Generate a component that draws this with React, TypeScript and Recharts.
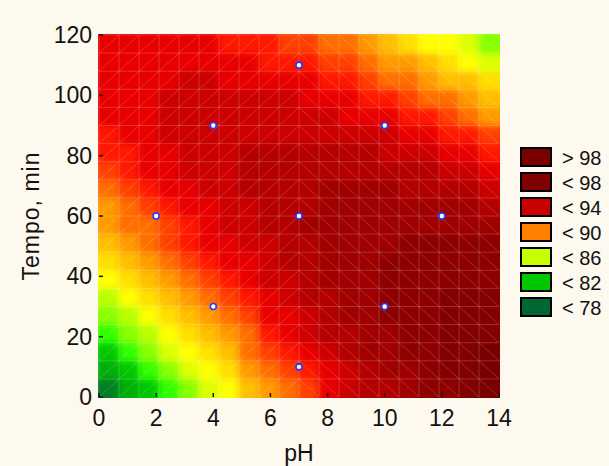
import React from 'react';
import { ScatterChart, Scatter, XAxis, YAxis, Legend } from 'recharts';

// cell centres of the fitted surface (pH columns, tempo rows)
const phCenters = [0.35, 1.05, 1.75, 2.45, 3.15, 3.85, 4.55, 5.25, 5.95, 6.65, 7.35, 8.05, 8.75, 9.45, 10.15, 10.85, 11.55, 12.25, 12.95, 13.65];
const tempoCenters = [3, 9, 15, 21, 27, 33, 39, 45, 51, 57, 63, 69, 75, 81, 87, 93, 99, 105, 111, 117];

// response, one row per tempo (bottom row first)
const surface = [
  [77.4, 79.1, 80.7, 82.3, 83.8, 85.3, 86.6, 88.0, 89.2, 90.4, 91.8, 93.1, 94.1, 95.0, 95.9, 96.6, 97.1, 97.8, 98.5, 99.1],
  [79.0, 80.7, 82.2, 83.7, 85.1, 86.5, 87.8, 89.0, 90.2, 91.5, 92.8, 93.8, 94.7, 95.6, 96.4, 96.9, 97.4, 98.1, 98.6, 99.1],
  [80.6, 82.2, 83.6, 85.0, 86.4, 87.6, 88.9, 90.0, 91.3, 92.5, 93.5, 94.4, 95.3, 96.1, 96.6, 97.2, 97.6, 98.2, 98.6, 99.1],
  [82.1, 83.6, 84.9, 86.3, 87.5, 88.7, 89.8, 90.9, 92.1, 93.3, 94.1, 95.0, 95.7, 96.4, 96.9, 97.2, 97.7, 98.2, 98.6, 98.9],
  [83.5, 84.9, 86.2, 87.4, 88.6, 89.7, 90.7, 91.9, 93.0, 93.9, 94.7, 95.4, 96.1, 96.5, 97.1, 97.3, 97.8, 98.1, 98.4, 98.7],
  [84.8, 86.1, 87.3, 88.4, 89.5, 90.5, 91.7, 92.8, 93.6, 94.4, 95.1, 95.8, 96.4, 96.7, 97.2, 97.4, 97.7, 98.0, 98.2, 98.3],
  [86.0, 87.2, 88.3, 89.4, 90.4, 91.5, 92.6, 93.4, 94.2, 94.8, 95.5, 96.0, 96.3, 96.8, 97.2, 97.3, 97.5, 97.7, 97.8, 97.9],
  [87.1, 88.2, 89.3, 90.2, 91.4, 92.4, 93.2, 93.9, 94.6, 95.2, 95.7, 96.2, 96.4, 96.8, 97.1, 97.1, 97.3, 97.4, 97.4, 97.4],
  [88.2, 89.2, 90.1, 91.2, 92.0, 93.0, 93.7, 94.3, 94.9, 95.4, 95.9, 96.3, 96.4, 96.7, 96.9, 97.0, 97.1, 97.1, 97.1, 97.0],
  [89.1, 90.0, 90.9, 91.9, 92.8, 93.5, 94.1, 94.7, 95.2, 95.6, 96.0, 96.3, 96.3, 96.5, 96.6, 96.7, 96.7, 96.6, 96.5, 96.3],
  [89.9, 90.8, 91.7, 92.7, 93.3, 93.9, 94.4, 94.9, 95.3, 95.7, 95.9, 96.2, 96.3, 96.4, 96.4, 96.4, 96.3, 96.2, 96.0, 95.7],
  [90.7, 91.6, 92.5, 93.1, 93.7, 94.2, 94.7, 95.0, 95.4, 95.6, 95.8, 96.0, 96.0, 96.0, 96.0, 95.9, 95.7, 95.5, 95.2, 94.8],
  [91.5, 92.4, 93.0, 93.5, 94.0, 94.4, 94.8, 95.1, 95.3, 95.5, 95.6, 95.7, 95.6, 95.6, 95.4, 95.2, 95.0, 94.6, 94.3, 93.8],
  [92.1, 92.9, 93.4, 93.8, 94.2, 94.6, 94.8, 95.1, 95.2, 95.3, 95.3, 95.3, 95.2, 95.0, 94.8, 94.5, 94.2, 93.7, 93.3, 92.7],
  [92.7, 93.2, 93.7, 94.0, 94.4, 94.6, 94.8, 94.9, 94.9, 94.9, 94.9, 94.8, 94.6, 94.4, 94.0, 93.7, 93.2, 92.7, 92.0, 91.4],
  [93.1, 93.5, 93.9, 94.2, 94.4, 94.5, 94.6, 94.7, 94.7, 94.6, 94.4, 94.2, 93.9, 93.6, 93.2, 92.8, 92.0, 91.5, 90.8, 89.9],
  [93.4, 93.7, 93.9, 94.2, 94.3, 94.4, 94.4, 94.4, 94.3, 94.1, 93.8, 93.5, 93.2, 92.8, 92.1, 91.5, 90.9, 90.3, 89.3, 88.5],
  [93.4, 93.6, 93.8, 93.9, 94.0, 94.0, 93.9, 93.7, 93.6, 93.3, 93.0, 92.6, 92.0, 91.5, 90.9, 90.2, 89.5, 88.8, 88.0, 87.1],
  [93.5, 93.6, 93.7, 93.7, 93.7, 93.6, 93.5, 93.1, 92.9, 92.6, 92.2, 91.6, 91.1, 90.4, 89.8, 89.0, 88.3, 87.4, 86.5, 85.6],
  [93.5, 93.5, 93.5, 93.5, 93.4, 93.2, 92.9, 92.6, 92.3, 91.7, 91.2, 90.6, 90.0, 89.3, 88.6, 87.8, 86.9, 86.0, 85.0, 83.9],
];

const designPoints = [
  { ph: 2, tempo: 60 },
  { ph: 4, tempo: 30 },
  { ph: 4, tempo: 90 },
  { ph: 7, tempo: 10 },
  { ph: 7, tempo: 60 },
  { ph: 7, tempo: 110 },
  { ph: 10, tempo: 30 },
  { ph: 10, tempo: 90 },
  { ph: 12, tempo: 60 },
];

const phTicks = [0, 2, 4, 6, 8, 10, 12, 14];
const tempoTicks = [0, 20, 40, 60, 80, 100, 120];
const legendLabels = ['> 98', '< 98', '< 94', '< 90', '< 86', '< 82', '< 78'];

const FONT = '"Liberation Sans", Arial, Helvetica, sans-serif';
const legendFills = ['#7a0000', '#800000', '#cc0000', '#ff8000', '#c8ff00', '#00c800', '#006633'];
// one colour per unit band, starting at 76
const bandFills = [
  '#006633', '#007d24', '#009616', '#00ae0a', '#00c800', '#00e400', '#30ff00', '#88ff00',
  '#b8ff00', '#dcff00', '#ffff00', '#ffde00', '#ffbe00', '#ff9a00', '#ff6e00', '#ff4000',
  '#ff1800', '#e80000', '#cc0000', '#b40000', '#a00000', '#8e0000', '#820000', '#780000',
];

const CHART_W = 609;
const CHART_H = 466;
const MARGIN = { top: 35, right: 110, bottom: 0, left: 0 };
const Y_AXIS_W = 99;
const X_AXIS_H = 69;
const PLOT_W = CHART_W - MARGIN.left - MARGIN.right - Y_AXIS_W;
const PLOT_H = CHART_H - MARGIN.top - MARGIN.bottom - X_AXIS_H;
const CELL_W = PLOT_W / phCenters.length;
const CELL_H = PLOT_H / tempoCenters.length;

const fillFor = (v: number) => {
  const k = Math.min(Math.max(Math.floor(v) - 76, 0), bandFills.length - 1);
  return bandFills[k];
};

const cells = surface.flatMap((row, j) =>
  row.map((v, i) => ({
    ph: phCenters[i],
    tempo: tempoCenters[j],
    fill: fillFor(v),
    rising: i < phCenters.length / 2,
  }))
);

const SurfaceCell = (p: any) => (
  <rect
    x={p.cx - CELL_W / 2 - 0.5}
    y={p.cy - CELL_H / 2 - 0.5}
    width={CELL_W + 1}
    height={CELL_H + 1}
    fill={p.payload.fill}
  />
);

const MeshCell = (p: any) => {
  const x = p.cx - CELL_W / 2;
  const y = p.cy - CELL_H / 2;
  const diag = p.payload.rising
    ? `M${x},${y + CELL_H}L${x + CELL_W},${y}`
    : `M${x},${y}L${x + CELL_W},${y + CELL_H}`;
  return (
    <path
      d={`M${x},${y + CELL_H}L${x},${y}L${x + CELL_W},${y}${diag}`}
      stroke="rgba(255,255,255,0.26)"
      strokeWidth={0.7}
      fill="none"
    />
  );
};

const X_GAP = 13;
const Y_GAP = 7;
const TICK = 4;

const BottomTick = (props: any) => {
  const { x, y, payload } = props;
  return (
    <g>
      <line x1={x} x2={x} y1={y - X_GAP} y2={y - X_GAP - TICK} stroke="#111" strokeWidth={1.5} />
      <text x={x} y={y} dy="0.71em" textAnchor="middle" fontSize={23} fontFamily={FONT} fill="#111">
        {payload.value}
      </text>
    </g>
  );
};

const LeftTick = (props: any) => {
  const { x, y, payload } = props;
  return (
    <g>
      <line x1={x + Y_GAP} x2={x + Y_GAP + TICK} y1={y} y2={y} stroke="#111" strokeWidth={1.5} />
      <text x={x} y={y} dy="0.355em" textAnchor="end" fontSize={23} fontFamily={FONT} fill="#111">
        {payload.value}
      </text>
    </g>
  );
};

const TopTick = (props: any) => (
  <line x1={props.x} x2={props.x} y1={props.y} y2={props.y + TICK} stroke="#111" strokeWidth={1.5} />
);

const RightTick = (props: any) => (
  <line x1={props.x} x2={props.x - TICK} y1={props.y} y2={props.y} stroke="#111" strokeWidth={1.5} />
);

const BandLegend = () => (
  <div style={{ fontFamily: FONT, fontSize: 20, color: '#111' }}>
    {legendLabels.map((lab, k) => (
      <div key={lab} style={{ display: 'flex', alignItems: 'flex-start', height: 25 }}>
        <div
          style={{
            width: 32,
            height: 20,
            boxSizing: 'border-box',
            border: '2px solid #000',
            background: legendFills[k],
          }}
        />
        <span style={{ marginLeft: 10, lineHeight: '20px', paddingTop: 1, whiteSpace: 'pre' }}>{lab}</span>
      </div>
    ))}
  </div>
);

const axisLine = { stroke: '#151515', strokeWidth: 2 };

export default function App() {
  return (
    <div
      style={{
        position: 'absolute',
        left: 0,
        top: 0,
        width: CHART_W,
        height: CHART_H,
        background: '#fdf9ee',
        overflow: 'hidden',
      }}
    >
      <style>{`.surface-layer { filter: url(#soften); }`}</style>
      <svg width={0} height={0} style={{ position: 'absolute' }}>
        <defs>
          <filter id="soften" x="0" y="0" width="1" height="1" colorInterpolationFilters="sRGB">
            <feGaussianBlur stdDeviation="3.8" />
            <feComponentTransfer>
              <feFuncA type="table" tableValues="1 1" />
            </feComponentTransfer>
          </filter>
        </defs>
      </svg>
      <ScatterChart width={CHART_W} height={CHART_H} margin={MARGIN}>
        <Scatter
          className="surface-layer"
          data={cells}
          isAnimationActive={false}
          shape={SurfaceCell}
        />
        <Scatter data={cells} isAnimationActive={false} shape={MeshCell} />
        <Scatter
          data={designPoints}
          isAnimationActive={false}
          shape={(p: any) => (
            <circle cx={p.cx} cy={p.cy} r={3} fill="#ffffff" stroke="#1f3cff" strokeWidth={1.6} />
          )}
        />
        <XAxis
          type="number"
          dataKey="ph"
          domain={[0, 14]}
          ticks={phTicks}
          interval={0}
          height={X_AXIS_H}
          tickSize={0}
          tickMargin={X_GAP}
          axisLine={axisLine}
          tick={BottomTick}
          label={{
            content: (p: any) => (
              <text
                x={p.viewBox.x + p.viewBox.width / 2}
                y={p.viewBox.y + 64}
                textAnchor="middle"
                fontSize={23}
                fontFamily={FONT}
                fill="#111"
              >
                pH
              </text>
            ),
          }}
        />
        <XAxis
          xAxisId="top"
          orientation="top"
          type="number"
          domain={[0, 14]}
          ticks={phTicks}
          interval={0}
          height={0}
          tickSize={0}
          tickMargin={0}
          axisLine={axisLine}
          tick={TopTick}
        />
        <YAxis
          type="number"
          dataKey="tempo"
          domain={[0, 120]}
          ticks={tempoTicks}
          interval={0}
          width={Y_AXIS_W}
          tickSize={0}
          tickMargin={Y_GAP}
          axisLine={axisLine}
          tick={LeftTick}
          label={{
            content: (p: any) => {
              const cx = p.viewBox.x + 38.5;
              const cy = p.viewBox.y + p.viewBox.height / 2;
              return (
                <text
                  x={cx}
                  y={cy}
                  transform={`rotate(-90, ${cx}, ${cy})`}
                  textAnchor="middle"
                  fontSize={23}
                  letterSpacing={1}
                  fontFamily={FONT}
                  fill="#111"
                >
                  Tempo, min
                </text>
              );
            },
          }}
        />
        <YAxis
          yAxisId="right"
          orientation="right"
          type="number"
          domain={[0, 120]}
          ticks={tempoTicks}
          interval={0}
          width={0}
          tickSize={0}
          tickMargin={0}
          axisLine={axisLine}
          tick={RightTick}
        />
        <Legend
          layout="vertical"
          align="center"
          verticalAlign="middle"
          wrapperStyle={{ left: 520, top: 147, width: 89 }}
          content={() => <BandLegend />}
        />
      </ScatterChart>
    </div>
  );
}
